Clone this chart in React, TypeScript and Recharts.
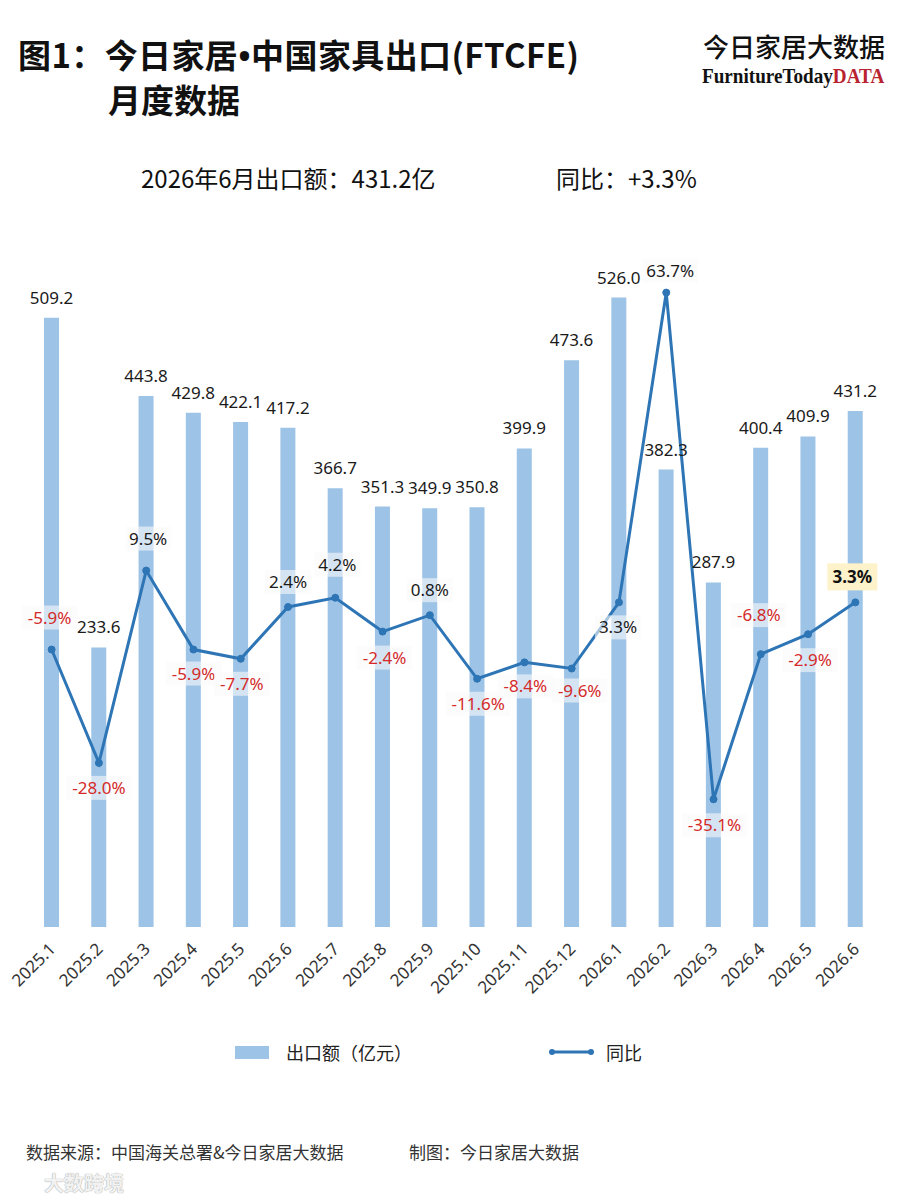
import React from 'react';
import { ComposedChart, Bar, Line, XAxis, YAxis, LabelList } from 'recharts';

// ---- data ----
const months = ['2025.1', '2025.2', '2025.3', '2025.4', '2025.5', '2025.6', '2025.7', '2025.8', '2025.9', '2025.10', '2025.11', '2025.12', '2026.1', '2026.2', '2026.3', '2026.4', '2026.5', '2026.6'];
const exportValues = [509.2, 233.6, 443.8, 429.8, 422.1, 417.2, 366.7, 351.3, 349.9, 350.8, 399.9, 473.6, 526.0, 382.3, 287.9, 400.4, 409.9, 431.2];
const yoyValues = [-5.9, -28.0, 9.5, -5.9, -7.7, 2.4, 4.2, -2.4, 0.8, -11.6, -8.4, -9.6, 3.3, 63.7, -35.1, -6.8, -2.9, 3.3];

// ---- label placement (layout, not data) ----
const yoyLabelShift: [number, number][] = [
  [-2, -32], [0, 25], [2, -32], [0, 24], [1, 25], [0, -25], [2, -33], [2, 26], [0, -25],
  [1, 25], [1, 24], [8, 22], [-1, 25], [4, -22], [1, 26], [-2, -39], [2, 26], [-3, -25],
];

const BAR_COLOR = '#9dc3e6';
const LINE_COLOR = '#2e75b6';
const RED = '#d42a2a';
const TEXT = '#1a1a1a';
const FONT = "'Noto Sans', 'Noto Sans CJK SC', sans-serif";
const CJK = "'Noto Sans CJK SC', 'Noto Sans', sans-serif";

const data = months.map((m, i) => ({ month: m, exportValue: exportValues[i], yoy: yoyValues[i] }));

const fmtPct = (v: number) => `${v.toFixed(1)}%`;

const MonthTick = (props: any) => {
  const { x, y, payload } = props;
  const ax = x + 5;
  const ay = y + 15;
  return (
    <text x={ax} y={ay} transform={`rotate(-45 ${ax} ${ay})`} textAnchor="end" fontSize={17} fill="#333" fontFamily={FONT}>
      {payload.value}
    </text>
  );
};

const BarValueLabel = (props: any) => {
  const { x, y, width, value } = props;
  const cx = x + width / 2;
  return (
    <text x={cx} y={y - 20 + 6} textAnchor="middle" fontSize={17} fill={TEXT} fontFamily={FONT}>
      {Number(value).toFixed(1)}
    </text>
  );
};

const YoyLabel = (props: any) => {
  const { x, y, value, index } = props;
  const [dx, dy] = yoyLabelShift[index] || [0, -25];
  const cx = x + dx;
  const cy = y + dy;
  const txt = fmtPct(Number(value));
  const isLast = index === yoyValues.length - 1;
  const w = txt.length * 9.5 + 8;
  const h = 24;
  const color = Number(value) < 0 ? RED : TEXT;
  return (
    <g>
      {isLast ? (
        <rect x={cx - 25} y={cy - 14} width={50} height={27} fill="#fdf2c9" />
      ) : (
        <rect x={cx - w / 2} y={cy - h / 2} width={w} height={h} fill="#fafafa" fillOpacity={0.6} />
      )}
      <text
        x={cx}
        y={cy + 6}
        textAnchor="middle"
        fontSize={17}
        fontWeight={isLast ? 700 : 400}
        fill={isLast ? '#111' : color}
        fontFamily={FONT}
      >
        {txt}
      </text>
    </g>
  );
};

const abs = (style: React.CSSProperties): React.CSSProperties => ({ position: 'absolute', whiteSpace: 'nowrap', ...style });

export default function App() {
  return (
    <div style={{ position: 'absolute', left: 0, top: 0, width: 900, height: 1200, background: '#fff', fontFamily: CJK, color: TEXT, overflow: 'hidden' }}>
      {/* title */}
      <div style={abs({ left: 18, top: 35, fontSize: 33, lineHeight: '38px', fontWeight: 700, color: '#111', letterSpacing: 0.4 })}>
        图1：今日家居<span style={{ fontFamily: "'Noto Sans', sans-serif" }}>•</span>中国家具出口(FTCFE)
      </div>
      <div style={abs({ left: 108, top: 80, fontSize: 33, lineHeight: '38px', fontWeight: 700, color: '#111' })}>
        月度数据
      </div>

      {/* logo */}
      <div style={abs({ left: 703, top: 30, fontSize: 26, lineHeight: '32px', fontWeight: 500, color: '#111' })}>
        今日家居大数据
      </div>
      <div style={abs({ left: 702, top: 62, height: 30, fontSize: 22, lineHeight: '28px', fontWeight: 700, fontFamily: "'Liberation Serif', serif", color: '#111', transform: 'scale(0.87, 1)', transformOrigin: '0 0' })}>
        FurnitureToday<span style={{ color: '#b8232f' }}>DATA</span>
      </div>

      {/* subtitle */}
      <div style={abs({ left: 141, top: 163, fontSize: 24, lineHeight: '30px', color: '#111' })}>
        2026年6月出口额：431.2亿
      </div>
      <div style={abs({ left: 556, top: 163, fontSize: 24, lineHeight: '30px', color: '#111' })}>
        同比：+3.3%
      </div>

      {/* chart */}
      <div style={{ position: 'absolute', left: 0, top: 0 }}>
        <ComposedChart width={900} height={1200} data={data} margin={{ top: 209, right: 21, left: 28, bottom: 213 }}>
          <XAxis dataKey="month" axisLine={false} tickLine={false} interval={0} height={60} tick={<MonthTick />} />
          <YAxis yAxisId="left" domain={[0, 600]} hide />
          <YAxis yAxisId="right" orientation="right" domain={[-60, 80]} hide />
          <Bar yAxisId="left" dataKey="exportValue" fill={BAR_COLOR} barSize={15} isAnimationActive={false}>
            <LabelList dataKey="exportValue" content={<BarValueLabel />} />
          </Bar>
          <Line
            yAxisId="right"
            type="linear"
            dataKey="yoy"
            stroke={LINE_COLOR}
            strokeWidth={3}
            dot={{ r: 3.5, fill: LINE_COLOR, stroke: LINE_COLOR, strokeWidth: 1 }}
            activeDot={false}
            isAnimationActive={false}
          >
            <LabelList dataKey="yoy" content={<YoyLabel />} />
          </Line>
        </ComposedChart>
      </div>

      {/* legend */}
      <div style={abs({ left: 235, top: 1046, width: 34, height: 13, background: BAR_COLOR })} />
      <div style={abs({ left: 286, top: 1039, fontSize: 18, lineHeight: '26px', color: '#222' })}>出口额（亿元）</div>
      <svg style={{ position: 'absolute', left: 548, top: 1044 }} width={48} height={16}>
        <line x1={4} y1={8} x2={43} y2={8} stroke={LINE_COLOR} strokeWidth={3} />
        <circle cx={4} cy={8} r={3} fill={LINE_COLOR} />
        <circle cx={43} cy={8} r={3} fill={LINE_COLOR} />
      </svg>
      <div style={abs({ left: 606, top: 1039, fontSize: 18, lineHeight: '26px', color: '#222' })}>同比</div>

      {/* footer */}
      <div style={abs({ left: 26, top: 1139, fontSize: 17, lineHeight: '26px', color: '#333' })}>
        数据来源：中国海关总署&amp;今日家居大数据
      </div>
      <div style={abs({ left: 409, top: 1139, fontSize: 17, lineHeight: '26px', color: '#333' })}>
        制图：今日家居大数据
      </div>

      {/* watermark */}
      <div style={abs({ left: 44, top: 1170, fontSize: 20, lineHeight: '26px', color: '#f2f2f2', fontWeight: 700, textShadow: '0 0 1px #aaa, 0 0 1px #aaa' })}>
        大数跨境
      </div>
    </div>
  );
}
